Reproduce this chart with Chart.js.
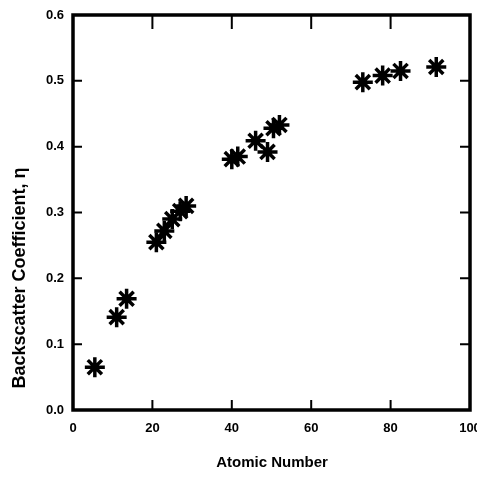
<!DOCTYPE html>
<html>
<head>
<meta charset="utf-8">
<script src="https://cdn.jsdelivr.net/npm/chart.js@4/dist/chart.umd.min.js"></script>
<style>
  html, body { margin: 0; padding: 0; background: #fff; overflow: hidden; }
  #chart { display: block; }
</style>
</head>
<body>
<canvas id="chart" width="477" height="477"></canvas>
<script>
// values
const atomicNumber = [5.5, 11, 13.5, 21, 23, 25, 27, 28.5, 40, 41.5, 46, 49, 50.5, 52, 73, 78, 82.5, 91.5];
const backscatter  = [0.065, 0.141, 0.169, 0.255, 0.272, 0.290, 0.302, 0.310, 0.381, 0.385, 0.409, 0.392, 0.428, 0.433, 0.498, 0.508, 0.515, 0.521];
const xTicks = [0, 20, 40, 60, 80, 100];
const yTicks = [0.0, 0.1, 0.2, 0.3, 0.4, 0.5, 0.6];

const tickFont = { family: '"Liberation Sans", Arial, sans-serif', size: 13, weight: 'bold' };

// frame + inward tick marks on all four sides
const framePlugin = {
    id: 'frame',
    afterDraw(chart) {
        const ctx = chart.ctx;
        const a = chart.chartArea;
        const xs = chart.scales.x, ys = chart.scales.y;
        ctx.save();
        ctx.strokeStyle = '#000';
        ctx.lineWidth = 2;
        xTicks.slice(1, -1).forEach(v => {
            const px = xs.getPixelForValue(v);
            ctx.beginPath();
            ctx.moveTo(px, a.top); ctx.lineTo(px, a.top + 14);
            ctx.moveTo(px, a.bottom); ctx.lineTo(px, a.bottom - 10);
            ctx.stroke();
        });
        yTicks.slice(1, -1).forEach(v => {
            const py = ys.getPixelForValue(v);
            ctx.beginPath();
            ctx.moveTo(a.left, py); ctx.lineTo(a.left + 9, py);
            ctx.moveTo(a.right, py); ctx.lineTo(a.right - 10, py);
            ctx.stroke();
        });
        ctx.lineWidth = 3.5;
        ctx.strokeRect(a.left, a.top, a.right - a.left, a.bottom - a.top);

        // axis titles
        ctx.fillStyle = '#000';
        ctx.textAlign = 'center';
        ctx.textBaseline = 'middle';
        ctx.font = 'bold 15px "Liberation Sans", Arial, sans-serif';
        ctx.fillText('Atomic Number', 272, 463);
        ctx.font = 'bold 18px "Liberation Sans", Arial, sans-serif';
        ctx.translate(20, 278);
        ctx.rotate(-Math.PI / 2);
        ctx.fillText('Backscatter Coefficient, η', 0, 0);
        ctx.restore();
    }
};

new Chart(document.getElementById('chart'), {
    type: 'scatter',
    data: {
        datasets: [{
            data: atomicNumber.map((x, i) => ({ x: x, y: backscatter[i] })),
            pointStyle: 'star',
            pointRadius: 10,
            pointBorderWidth: 3.5,
            borderColor: '#000',
            backgroundColor: '#000'
        }]
    },
    options: {
        responsive: false,
        animation: false,
        layout: { autoPadding: false, padding: { top: 15, right: 7, left: 0, bottom: 0 } },
        plugins: { legend: { display: false }, tooltip: { enabled: false } },
        scales: {
            x: {
                type: 'linear',
                min: 0, max: 100,
                afterBuildTicks: s => { s.ticks = xTicks.map(v => ({ value: v })); },
                afterFit: s => { s.height = 67; s.paddingLeft = 0; s.paddingRight = 0; },
                grid: { display: false, drawTicks: false },
                border: { display: false },
                ticks: { color: '#000', font: tickFont, padding: 11, maxRotation: 0 }
            },
            y: {
                type: 'linear',
                min: 0, max: 0.6,
                afterBuildTicks: s => { s.ticks = yTicks.map(v => ({ value: v })); },
                afterFit: s => { s.width = 73; s.paddingTop = 0; s.paddingBottom = 0; },
                grid: { display: false, drawTicks: false },
                border: { display: false },
                ticks: { color: '#000', font: tickFont, padding: 9, callback: v => v.toFixed(1) }
            }
        }
    },
    plugins: [framePlugin]
});
</script>
</body>
</html>
